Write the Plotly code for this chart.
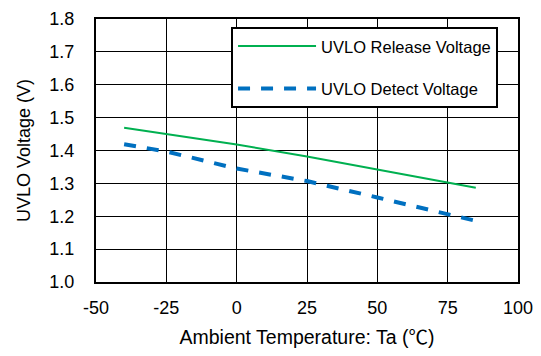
import plotly.graph_objects as go

temps = [-40, -25, 0, 25, 50, 75, 85]
release_v = [1.469, 1.450, 1.418, 1.382, 1.343, 1.302, 1.287]
detect_v = [1.419, 1.397, 1.345, 1.307, 1.257, 1.207, 1.186]

x_ticks = [-50, -25, 0, 25, 50, 75, 100]
y_ticks = [1.0, 1.1, 1.2, 1.3, 1.4, 1.5, 1.6, 1.7, 1.8]

FONT = "Liberation Sans, Arial, Noto Sans CJK JP, sans-serif"

fig = go.Figure()
fig.add_trace(go.Scatter(
    x=temps, y=release_v, mode="lines", name="UVLO Release Voltage",
    line=dict(color="#00b050", width=2), legendgroup="a"))
fig.add_trace(go.Scatter(
    x=temps, y=detect_v, mode="lines", name="UVLO Detect Voltage",
    line=dict(color="#0070c0", width=4, dash="12px,11px"), legendgroup="b"))

# page body has an 8px default margin; figure sized to fit inside it
fig.update_layout(
    width=525, height=340,
    margin=dict(l=88, r=15, t=11, b=66),
    paper_bgcolor="white", plot_bgcolor="white",
    font=dict(family=FONT, size=18, color="black"),
    showlegend=True,
    legend=dict(
        x=0.32, y=0.97, xanchor="left", yanchor="top",
        bgcolor="white", bordercolor="black", borderwidth=2,
        font=dict(family=FONT, size=16.5, color="black"),
        tracegroupgap=18, itemwidth=78,
    ),
)
fig.update_xaxes(
    range=[-50, 100], tickvals=x_ticks, ticktext=[str(v) for v in x_ticks],
    showgrid=True, gridcolor="black", gridwidth=1.3,
    showline=True, linecolor="black", linewidth=2, mirror=True,
    zeroline=False, ticks="outside", ticklen=0, ticklabelstandoff=8,
    automargin=False, ticklabeloverflow="allow",
    title=dict(text="Ambient Temperature: Ta (\u2103)", font=dict(size=19.5), standoff=14),
)
fig.update_yaxes(
    range=[1.0, 1.8], tickvals=y_ticks, ticktext=[f"{v:.1f}" for v in y_ticks],
    showgrid=True, gridcolor="black", gridwidth=1.3,
    showline=True, linecolor="black", linewidth=2, mirror=True,
    zeroline=False, ticks="outside", ticklen=0, ticklabelstandoff=16,
    automargin=False, ticklabeloverflow="allow",
    title=dict(text="UVLO Voltage (V)", font=dict(size=18), standoff=14),
)

fig.write_html("out.html")
